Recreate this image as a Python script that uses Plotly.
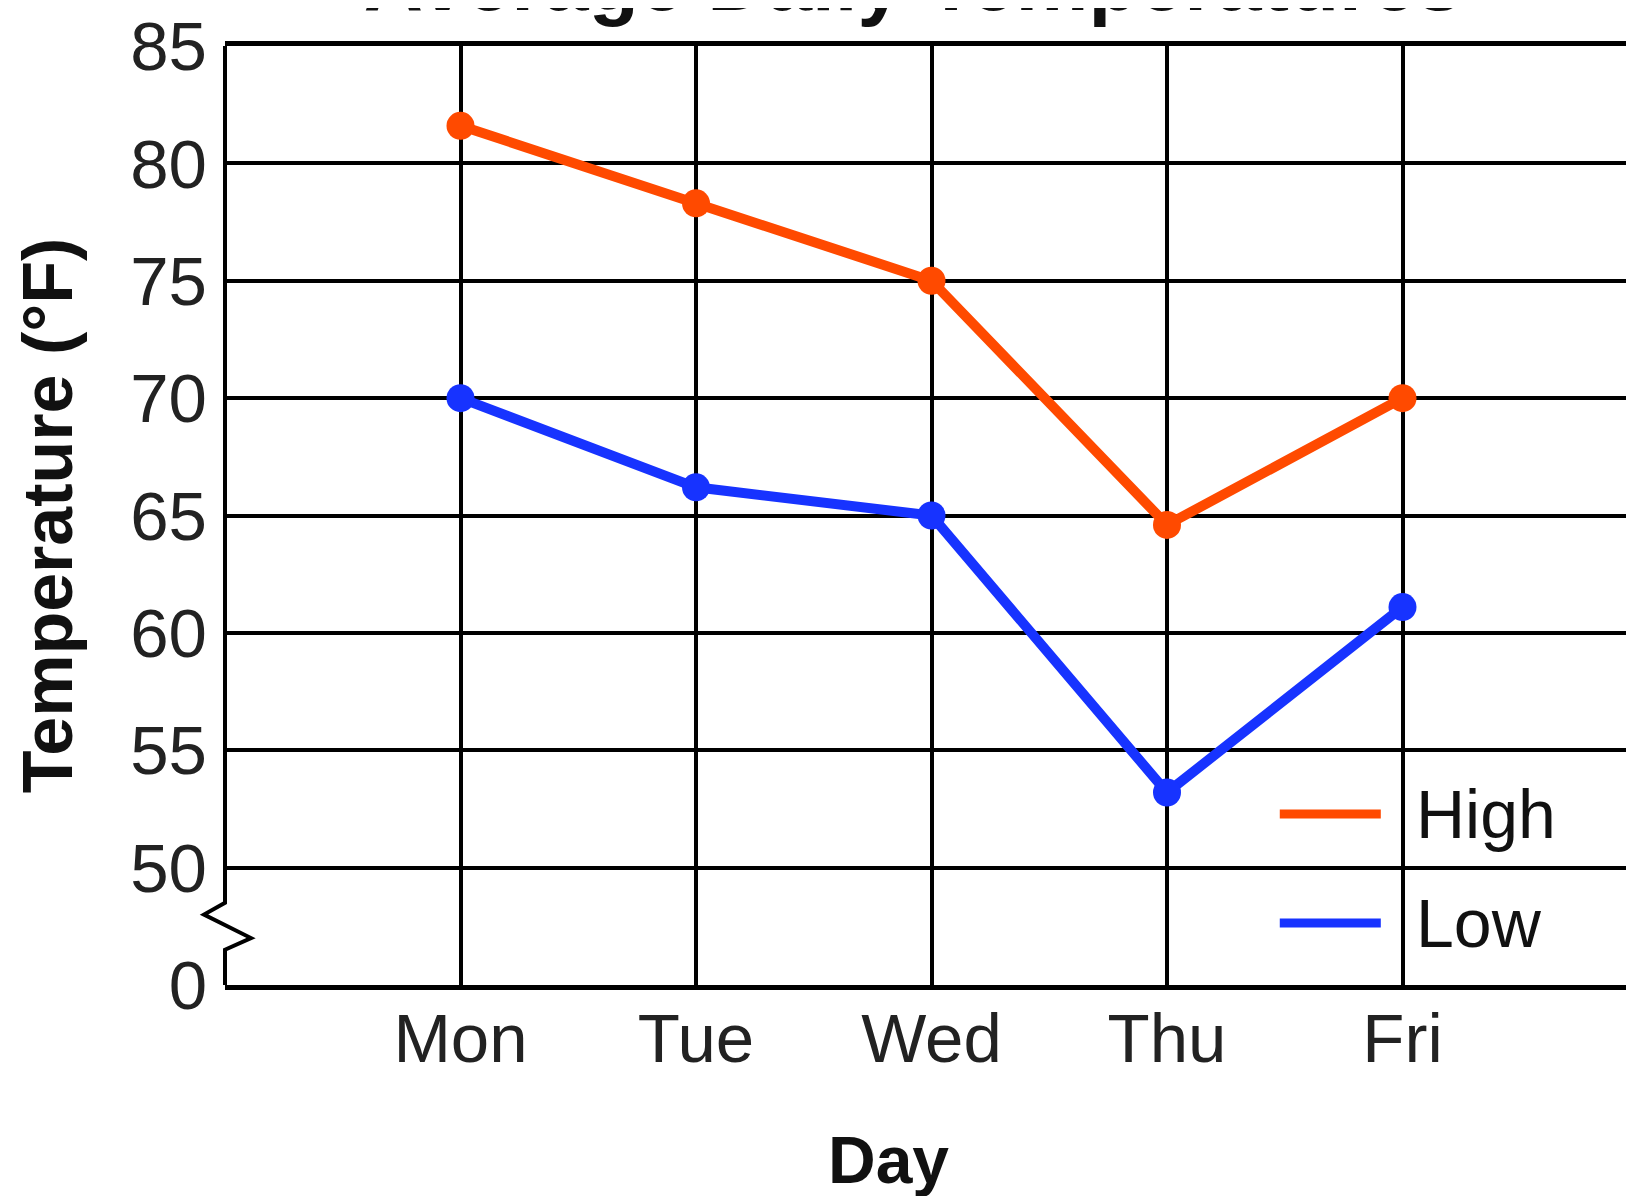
import plotly.graph_objects as go

# ---- data ----
days = ["Mon", "Tue", "Wed", "Thu", "Fri"]
high = [81.6, 78.3, 75.0, 64.6, 70.0]
low = [70.0, 66.2, 65.0, 53.2, 61.1]
series_names = ["High", "Low"]
series_colors = ["#FF4A00", "#1733FF"]
y_tickvals = [45, 50, 55, 60, 65, 70, 75, 80, 85]
y_ticktext = ["0", "50", "55", "60", "65", "70", "75", "80", "85"]
title_text = "Average Daily Temperatures"
x_title = "Day"
y_title = "Temperature (°F)"

FONT = "Liberation Sans, Arial, Helvetica, sans-serif"
W, H = 1626, 1188

fig = go.Figure()
for name, vals, col in zip(series_names, [high, low], series_colors):
    fig.add_trace(go.Scatter(
        x=days, y=vals, name=name, mode="lines+markers",
        line=dict(color=col, width=10),
        marker=dict(color=col, size=28),
        showlegend=False,
    ))

shapes = []
# left axis line with a break (zigzag) between 50 and the bottom "0"
shapes.append(dict(
    type="path", xref="paper", yref="y", xsizemode="pixel", xanchor=0,
    path="M0,85 L0,48.5 L-21,48.0 L26,47.0 L0,46.5 L0,45",
    line=dict(color="black", width=4), layer="above",
))

annotations = []
# custom legend
leg_y = [0.182, 0.066]
for name, col, ly in zip(series_names, series_colors, leg_y):
    shapes.append(dict(type="line", xref="paper", yref="paper",
                       x0=0.7486, x1=0.8203, y0=ly, y1=ly,
                       line=dict(color=col, width=9), layer="above"))
    annotations.append(dict(text=name, xref="paper", yref="paper",
                            x=0.8438, y=ly, xanchor="left", yanchor="middle",
                            showarrow=False,
                            font=dict(family=FONT, size=68, color="#111")))

# x-axis title
annotations.append(dict(text="<b>" + x_title + "</b>", xref="paper", yref="paper",
                        x=0.471, y=-0.186, xanchor="center", yanchor="middle",
                        showarrow=False,
                        font=dict(family=FONT, size=66, color="#111")))

fig.update_layout(
    width=W, height=H,
    margin=dict(l=217, r=0, t=35, b=211),
    paper_bgcolor="white", plot_bgcolor="white",
    font=dict(family=FONT, color="#111"),
    title=dict(text="<b>" + title_text + "</b>", x=0.5566, xanchor="center",
               xref="container", y=1 - 2 / H, yanchor="bottom",
               font=dict(family=FONT, size=82, color="#111")),
    shapes=shapes, annotations=annotations,
    showlegend=False,
)
fig.update_xaxes(
    type="category", range=[-1, 4.983],
    showgrid=True, gridcolor="black", gridwidth=3.5,
    showline=True, linecolor="black", linewidth=4.5, mirror=True,
    ticks="", tickfont=dict(family=FONT, size=69, color="#222"),
    ticklabelstandoff=-11, zeroline=False,
)
fig.update_yaxes(
    range=[45, 85], tickvals=y_tickvals, ticktext=y_ticktext,
    showgrid=True, gridcolor="black", gridwidth=3.5,
    showline=False, zeroline=False,
    ticks="", tickfont=dict(family=FONT, size=69, color="#222"),
    ticklabelstandoff=17, ticklabeloverflow="allow",
    title=dict(text="<b>" + y_title + "</b>", standoff=34,
               font=dict(family=FONT, size=70, color="#111")),
)

fig.write_html("out.html")
